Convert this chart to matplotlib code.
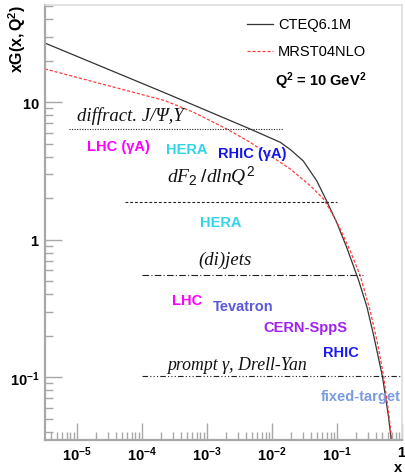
import numpy as np
import matplotlib
matplotlib.use("Agg")
import matplotlib.pyplot as plt

plt.rcParams['font.family'] = ['Liberation Sans', 'DejaVu Sans']
plt.rcParams['mathtext.fontset'] = 'custom'
plt.rcParams['mathtext.rm'] = 'Liberation Sans'
plt.rcParams['mathtext.bf'] = 'Liberation Sans:bold'
plt.rcParams['mathtext.it'] = 'Liberation Serif:italic'

# gluon distributions, Q^2 = 10 GeV^2
x_cteq = [3.25e-6, 2.28e-4, 4.63e-3, 0.01342, 0.01914, 0.03034, 0.0492, 0.0684,
          0.1000, 0.1425, 0.2148, 0.2897, 0.3659, 0.5028, 0.6222, 0.6845]
xg_cteq = [26.9, 11.67, 6.38, 5.11, 4.53, 3.74, 2.67, 1.944,
           1.323, 0.870, 0.509, 0.324, 0.2027, 0.1003, 0.0513, 0.0349]

x_mrst = [3.25e-6, 2.28e-4, 6.22e-4, 2.03e-3, 4.63e-3, 9.42e-3, 0.01914, 0.0388,
          0.0622, 0.0886, 0.1124, 0.1602, 0.2283, 0.3253, 0.4169, 0.5211, 0.631, 0.6966]
xg_mrst = [17.44, 10.25, 8.45, 6.38, 5.11, 4.08, 3.27, 2.47,
           1.977, 1.494, 1.196, 0.828, 0.547, 0.303, 0.1803, 0.1026, 0.0531, 0.0349]

# kinematic reach lines: (xmin, xmax, level)
ranges = {
    "diffract": (7.6e-6, 0.0148, 6.4),
    "dF2": (5.5e-5, 0.100, 1.89),
    "dijets": (1.0e-4, 0.25, 0.553),
    "prompt": (1.0e-4, 0.92, 0.1016),
}

fig = plt.figure(figsize=(4.06, 4.77), dpi=100)
ax = fig.add_axes([0.112, 0.0755, 0.878, 0.911])

ax.plot(x_cteq, xg_cteq, color="#333333", lw=0.9)
ax.plot(x_mrst, xg_mrst, color="#ff3b3b", lw=0.9, ls=(0, (2.5, 1.5)))

styles = {"diffract": (0, (1, 1.3)), "dF2": (0, (2.5, 1.8)),
          "dijets": (0, (6, 2, 1, 2)), "prompt": (0, (5, 2, 1, 2, 1, 2, 1, 2))}
for k, (x0, x1, lev) in ranges.items():
    ax.plot([x0, x1], [lev, lev], color="#222222", lw=0.8, ls=styles[k])

ax.set_xscale("log")
ax.set_yscale("log")
ax.set_xlim(3.31e-6, 1.0)
ax.set_ylim(0.0349, 50.5)

# serif italic labels
ser = dict(family="Liberation Serif", style="italic", color="#111111", va="center")
ax.text(1e-5, 8.1, "diffract. J/\u03a8,\u03a5", fontsize=13.5, **ser)
ax.text(2.43e-4, 2.9, r"$dF_{\mathit{2}}\;/dlnQ^{\mathit{2}}$", fontsize=14,
        color="#111111", va="center")
ax.text(7.43e-4, 0.724, "(di)jets", fontsize=13.5, **ser)
ax.text(2.43e-4, 0.123, "prompt \u03b3, Drell-Yan", fontsize=12.8, **ser)

# experiments
bold = dict(fontweight="bold", fontsize=10.5, va="center")
ax.text(1.46e-5, 4.83, "LHC (\u03b3A)", color="#ff00ff", **bold)
ax.text(2.34e-4, 4.57, "HERA", color="#30d5e8", **bold)
ax.text(1.51e-3, 4.27, "RHIC (\u03b3A)", color="#1414ee", **bold)
ax.text(7.88e-4, 1.35, "HERA", color="#30d5e8", **bold)
ax.text(2.9e-4, 0.366, "LHC", color="#ff00ff", **bold)
ax.text(1.26e-3, 0.328, "Tevatron", color="#5a5ad8", **bold)
ax.text(7.43e-3, 0.231, "CERN-SppS", color="#a020f0", **bold)
ax.text(0.0622, 0.153, "RHIC", color="#1a1aff", **bold)
ax.text(0.0568, 0.0726, "fixed-target", color="#7b9be0", **bold)

# legend drawn by hand
ax.plot([0.565, 0.637], [0.957, 0.957], color="#333333", lw=0.9, transform=ax.transAxes)
ax.plot([0.565, 0.637], [0.896, 0.896], color="#ff3b3b", lw=0.9, ls=(0, (2.5, 1.5)),
        transform=ax.transAxes)
ax.text(0.652, 0.957, "CTEQ6.1M", fontsize=10.5, va="center", transform=ax.transAxes)
ax.text(0.652, 0.896, "MRST04NLO", fontsize=10.5, va="center", transform=ax.transAxes)
ax.text(0.644, 0.827, r"Q$\mathbf{^{2}}$ = 10 GeV$\mathbf{^{2}}$", fontsize=10.5,
        fontweight="bold", va="center", transform=ax.transAxes)

# axes styling, ROOT-like
for s in ["left", "bottom"]:
    ax.spines[s].set_color("#a8a8a8")
    ax.spines[s].set_linewidth(1.6)
for s in ["top", "right"]:
    ax.spines[s].set_color("#dddddd")
    ax.spines[s].set_linewidth(1.2)

ax.tick_params(which="both", direction="in", color="#a8a8a8", top=False, right=False)
ax.tick_params(which="major", length=12, width=1.0)
ax.tick_params(which="minor", length=6, width=1.0)

xt = [1e-5, 1e-4, 1e-3, 1e-2, 1e-1, 1]
xtl = [r"$\mathbf{10^{-5}}$", r"$\mathbf{10^{-4}}$", r"$\mathbf{10^{-3}}$",
       r"$\mathbf{10^{-2}}$", r"$\mathbf{10^{-1}}$", r"$\mathbf{1}$"]
ax.set_xticks(xt)
ax.set_xticklabels(xtl, fontsize=10.5)
yt = [0.1, 1, 10]
ytl = [r"$\mathbf{10^{-1}}$", r"$\mathbf{1}$", r"$\mathbf{10}$"]
ax.set_yticks(yt)
ax.set_yticklabels(ytl, fontsize=10.5)
ax.tick_params(axis="x", pad=3.5)
ax.tick_params(axis="y", pad=4)
ax.xaxis.set_minor_locator(matplotlib.ticker.LogLocator(base=10, subs=np.arange(2, 10), numticks=20))
ax.yaxis.set_minor_locator(matplotlib.ticker.LogLocator(base=10, subs=np.arange(2, 10), numticks=20))
ax.xaxis.set_minor_formatter(matplotlib.ticker.NullFormatter())
ax.yaxis.set_minor_formatter(matplotlib.ticker.NullFormatter())

fig.text(0.981, 0.004, "x", fontweight="bold", fontsize=10.5, ha="center", va="bottom")
fig.text(0.042, 0.99, r"$\mathbf{xG(x,Q^{2})}$", fontsize=11.5, rotation=90,
         ha="center", va="top")

fig.savefig("out.png", dpi=100)
